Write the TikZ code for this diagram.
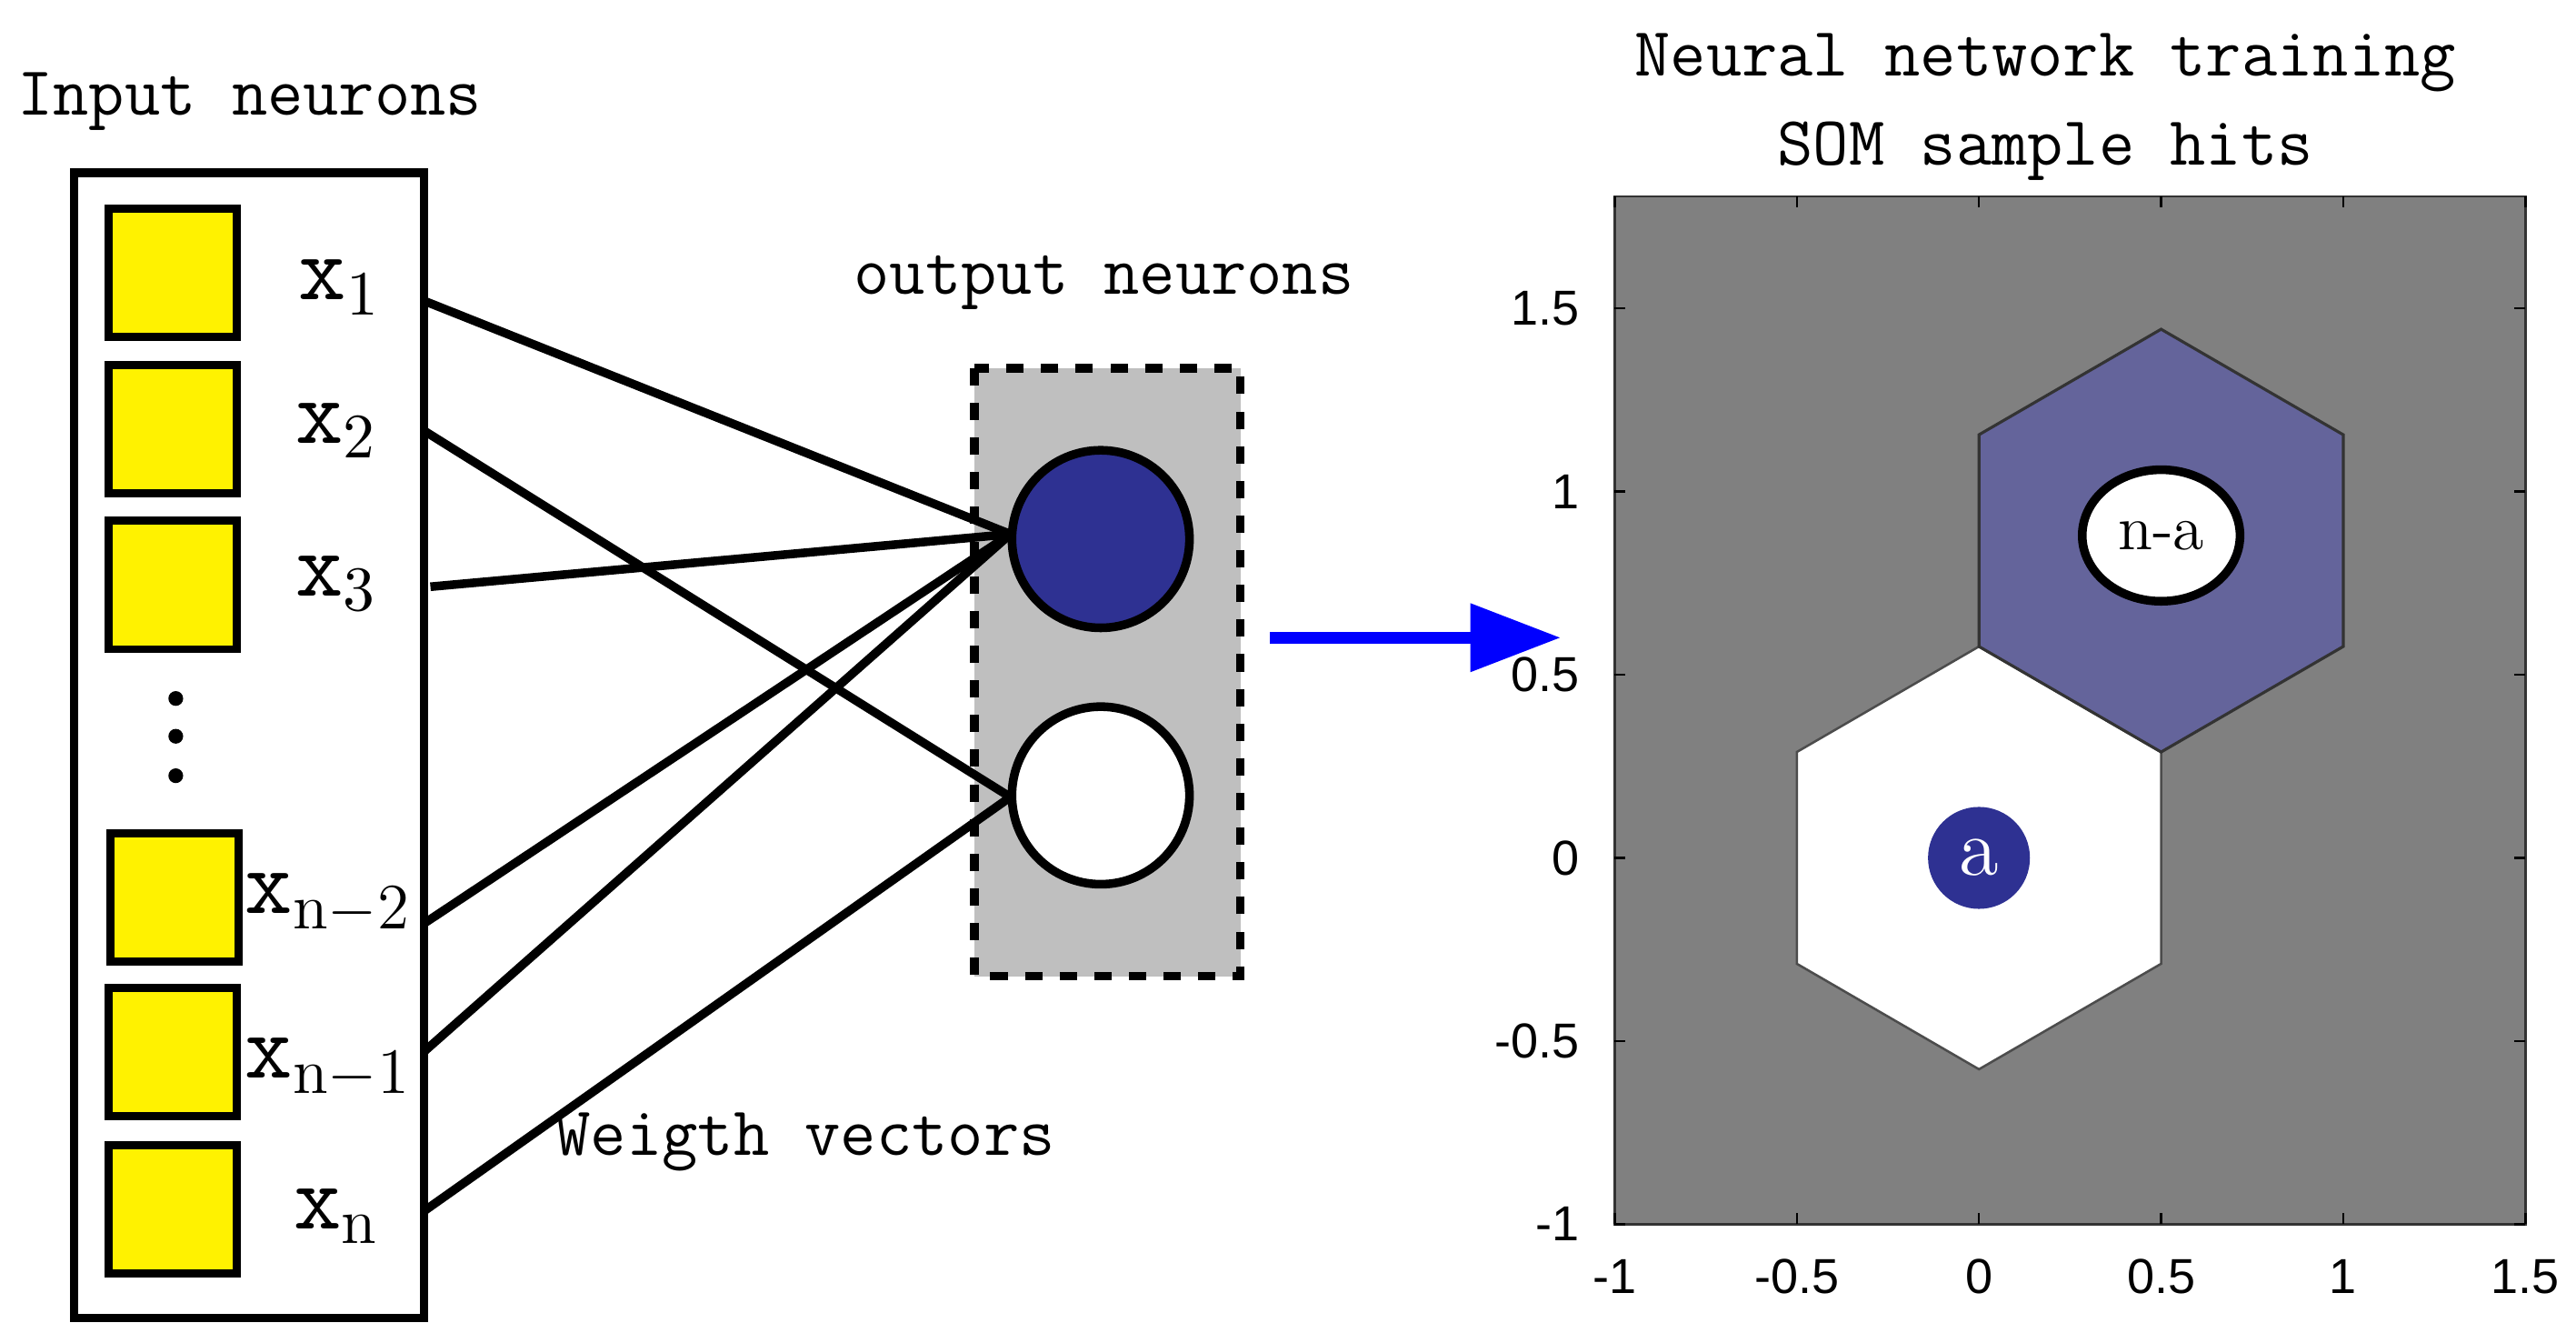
\documentclass[tikz,border=0pt]{standalone}
\usepackage{fontspec}
\newfontfamily\axfont{Liberation Sans}
\usetikzlibrary{arrows.meta,shapes.geometric}
\definecolor{hexblue}{RGB}{100,100,155}
\definecolor{nblue}{RGB}{46,49,146}
\begin{document}
\begin{tikzpicture}[x=0.01cm,y=-0.01cm,
  sq/.style={draw=black,line width=1.4pt,fill=yellow,minimum size=0.78cm,inner sep=0pt},
  lab/.style={font=\fontsize{16}{16}\selectfont\ttfamily},
  txt/.style={font=\fontsize{12}{12}\selectfont\ttfamily},
  con/.style={line width=1.5pt},
  neu/.style={circle,draw=black,line width=1.5pt,minimum size=1.08cm,inner sep=0pt},
  tick/.style={font=\axfont\fontsize{8.5}{9}\selectfont}]
\useasboundingbox (0,0) rectangle (1568,817);
\node[txt] (tin) at (152,62) {Input neurons};
\draw[line width=1.5pt] (45,105) rectangle (258,802);
\node[sq] (s1) at (105,166) {};
\node[sq] (s2) at (105,261) {};
\node[sq] (s3) at (105,356) {};
\node[sq] (s4) at (106,546) {};
\node[sq] (s5) at (105,640) {};
\node[sq] (s6) at (105,736) {};
\foreach \y in {425,448,472} \fill (107,\y) circle (4.5);
\node[lab] (l1) at (207,175) {x$_1$};
\node[lab] (l2) at (205,262) {x$_2$};
\node[lab] (l3) at (205,355) {x$_3$};
\node[lab] (l4) at (200,550) {x$_{\mathrm{n-2}}$};
\node[lab] (l5) at (200,650) {x$_{\mathrm{n-1}}$};
\node[lab] (l6) at (205,740) {x$_{\mathrm{n}}$};
\coordinate (a1) at (258,183);
\coordinate (a2) at (258,262);
\coordinate (a3) at (262,357);
\coordinate (a4) at (258,562);
\coordinate (a5) at (258,640);
\coordinate (a6) at (258,737);
\draw[dashed,line width=1.5pt,fill=black!25] (593,224) rectangle (755,594);
\node[neu,fill=nblue] (o1) at (670,328) {};
\node[neu,fill=white] (o2) at (670,484) {};
\coordinate (p1) at (615,325);
\coordinate (p2) at (615,485);
\draw[con] (a1)--(p1); \draw[con] (a2)--(p2); \draw[con] (a3)--(p1);
\draw[con] (a4)--(p1); \draw[con] (a5)--(p1); \draw[con] (a6)--(p2);
\node[txt] (tout) at (672,172) {output neurons};
\node[txt] (tw) at (490,695) {Weigth vectors};
\coordinate (ar1) at (773,388); \coordinate (ar2) at (950,388);
\draw[blue,line width=2pt,-{Triangle[length=0.55cm,width=0.4cm]}] (ar1)--(ar2);
\node[txt] (t1) at (1245,38) {Neural network training};
\node[txt] (t2) at (1245,92) {SOM sample hits};
\begin{scope}[shift={(1204.6,522)},x=2.216cm,y=2.228cm]
\fill[gray] (-1,-1) rectangle (1.5,1.805);
\draw[black!70,line width=0.4pt,fill=white] (0.5,0.289)--(0,0.577)--(-0.5,0.289)--(-0.5,-0.289)--(0,-0.577)--(0.5,-0.289)--cycle;
\draw[black!80,line width=0.5pt,fill=hexblue] (1,1.155)--(0.5,1.443)--(0,1.155)--(0,0.577)--(0.5,0.289)--(1,0.577)--cycle;
\draw[black!80,line width=0.4pt] (-1,-1) rectangle (1.5,1.805);
\node[ellipse,draw=black,line width=1.5pt,fill=white,minimum width=0.96cm,minimum height=0.8cm,inner sep=0pt,font=\fontsize{11}{11}\selectfont] (na) at (0.5,0.88) {n-a};
\node[circle,fill=nblue,minimum size=0.62cm,inner sep=0pt,text=white,font=\fontsize{14}{14}\selectfont] (aa) at (0,0) {a};
\foreach \v in {-1,-0.5,0,0.5,1,1.5} {
  \draw (\v,-1)--(\v,-0.97); \draw (\v,1.805)--(\v,1.775);
  \node[tick,anchor=north] at (\v,-1.04) {\v};}
\foreach \v in {-1,-0.5,0,0.5,1,1.5} {
  \draw (-1,\v)--(-0.97,\v); \draw (1.5,\v)--(1.47,\v);
  \node[tick,anchor=east] at (-1.04,\v) {\v};}
\end{scope}
\end{tikzpicture}
\end{document}
